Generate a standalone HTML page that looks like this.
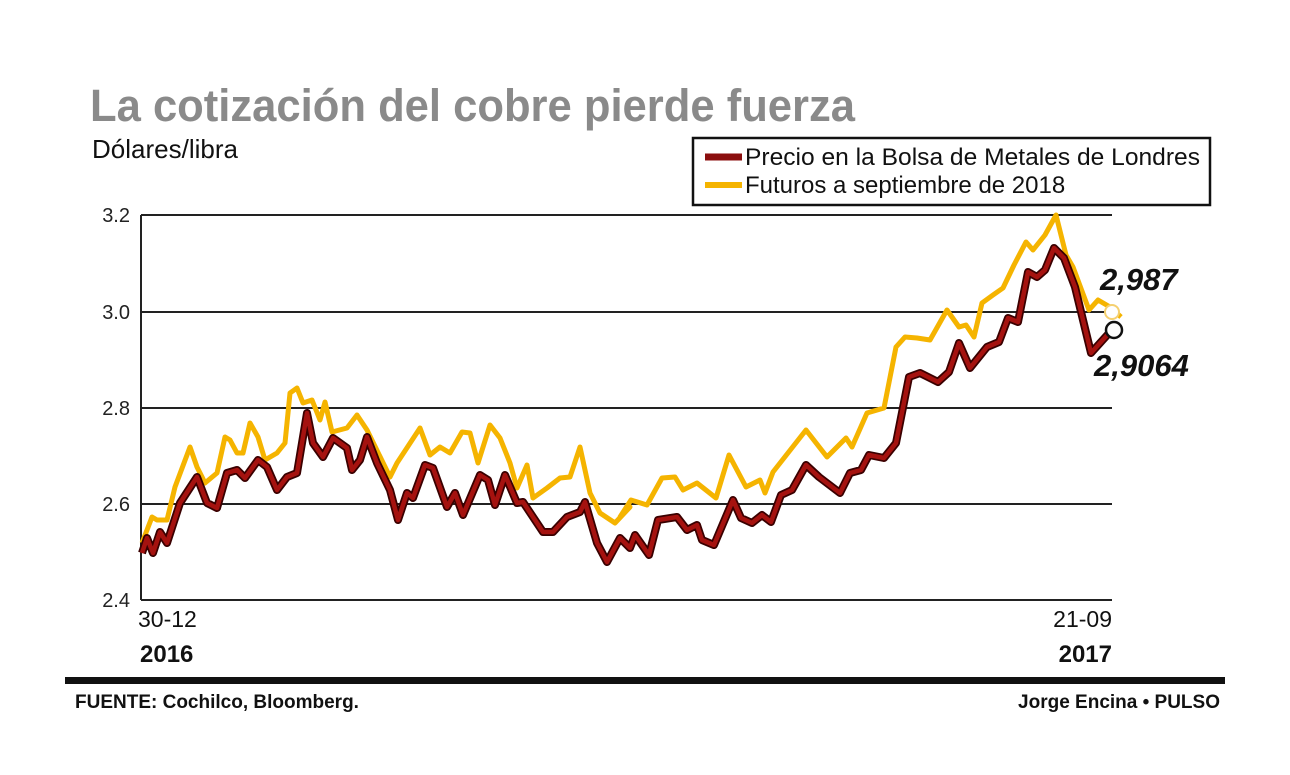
<!DOCTYPE html>
<html><head><meta charset="utf-8"><style>
body{margin:0;background:#fff;width:1290px;height:770px;overflow:hidden}
svg text{font-family:"Liberation Sans",sans-serif}
</style></head><body>
<svg width="1290" height="770" xmlns="http://www.w3.org/2000/svg">
<rect width="1290" height="770" fill="#fff"/>
<text x="90" y="121" font-size="45" font-weight="bold" fill="#8a8a8a" textLength="765" lengthAdjust="spacingAndGlyphs">La cotización del cobre pierde fuerza</text>
<text x="92" y="158" font-size="26" fill="#111">Dólares/libra</text>
<rect x="693" y="138" width="517" height="67" fill="#fff" stroke="#111" stroke-width="2.5"/>
<line x1="705" y1="157" x2="742" y2="157" stroke="#8b0e0e" stroke-width="7"/>
<text x="745" y="165" font-size="24" fill="#111" textLength="455" lengthAdjust="spacingAndGlyphs">Precio en la Bolsa de Metales de Londres</text>
<line x1="705" y1="185" x2="742" y2="185" stroke="#f5b400" stroke-width="6"/>
<text x="745" y="193" font-size="24" fill="#111">Futuros a septiembre de 2018</text>
<g stroke="#222" stroke-width="2">
<line x1="141" y1="215" x2="1112" y2="215"/><line x1="141" y1="312" x2="1112" y2="312"/>
<line x1="141" y1="408" x2="1112" y2="408"/><line x1="141" y1="504" x2="1112" y2="504"/>
<line x1="141" y1="600" x2="1112" y2="600"/><line x1="141" y1="215" x2="141" y2="600"/>
</g>
<g font-size="20" fill="#222" text-anchor="end">
<text x="130" y="222">3.2</text><text x="130" y="319">3.0</text><text x="130" y="415">2.8</text>
<text x="130" y="511">2.6</text><text x="130" y="607">2.4</text></g>
<text x="138" y="627" font-size="23" fill="#111">30-12</text>
<text x="140" y="662" font-size="24" font-weight="bold" fill="#111">2016</text>
<text x="1112" y="627" font-size="23" fill="#111" text-anchor="end">21-09</text>
<text x="1112" y="662" font-size="24" font-weight="bold" fill="#111" text-anchor="end">2017</text>
<polyline fill="none" stroke="#f5b400" stroke-width="5" stroke-linejoin="round" points="142,543 152,517 157,520 167,520 175,487 190,447 197,467 205,483 217,473 225,437 230,440 237,453 243,453 250,423 258,437 265,460 277,453 285,443 290,393 297,388 303,403 312,400 320,420 325,402 332,432 347,428 357,415 367,430 390,477 397,463 420,428 430,455 440,447 450,453 462,432 470,433 478,463 490,425 500,438 510,463 517,488 527,465 533,498 547,488 560,478 570,477 580,447 590,493 600,513 615,523 630,507 620,517 631,500 647,505 662,478 675,477 683,490 697,483 716,498 729,455 746,487 760,480 765,493 773,472 806,430 827,457 846,438 852,447 867,413 884,408 896,347 905,337 917,338 930,340 947,310 959,327 966,325 974,337 982,303 993,295 1003,288 1014,265 1026,242 1033,250 1045,235 1056,215 1066,255 1073,267 1089,310 1098,300 1110,307 1121,317"/>
<circle cx="1112" cy="312" r="7" fill="#fff" stroke="#f5d070" stroke-width="2"/>
<polyline fill="none" stroke="#3a0000" stroke-width="8" stroke-linejoin="round" points="142,553 147,538 153,553 160,532 167,543 180,503 197,477 207,503 217,508 227,473 237,470 245,478 258,460 267,467 277,490 287,477 297,473 307,413 313,443 323,457 333,438 347,448 352,470 360,460 367,437 377,463 390,490 398,520 407,493 413,498 425,465 433,468 447,507 455,493 463,515 480,475 488,480 495,505 505,475 517,503 523,502 543,532 553,532 567,517 580,512 585,502 597,543 607,562 620,538 630,548 635,535 649,555 658,520 677,517 687,530 697,525 702,540 714,545 733,500 741,518 752,523 762,515 771,522 781,495 792,490 806,465 819,477 840,493 850,473 861,470 869,455 884,458 896,443 909,377 920,373 938,382 949,372 959,343 970,368 987,347 999,342 1008,318 1018,322 1028,272 1037,277 1045,270 1054,248 1064,258 1075,287 1091,353 1110,332"/>
<polyline fill="none" stroke="#a5120f" stroke-width="4.5" stroke-linejoin="round" points="142,553 147,538 153,553 160,532 167,543 180,503 197,477 207,503 217,508 227,473 237,470 245,478 258,460 267,467 277,490 287,477 297,473 307,413 313,443 323,457 333,438 347,448 352,470 360,460 367,437 377,463 390,490 398,520 407,493 413,498 425,465 433,468 447,507 455,493 463,515 480,475 488,480 495,505 505,475 517,503 523,502 543,532 553,532 567,517 580,512 585,502 597,543 607,562 620,538 630,548 635,535 649,555 658,520 677,517 687,530 697,525 702,540 714,545 733,500 741,518 752,523 762,515 771,522 781,495 792,490 806,465 819,477 840,493 850,473 861,470 869,455 884,458 896,443 909,377 920,373 938,382 949,372 959,343 970,368 987,347 999,342 1008,318 1018,322 1028,272 1037,277 1045,270 1054,248 1064,258 1075,287 1091,353 1110,332"/>
<circle cx="1114" cy="330" r="8" fill="#fff" stroke="#111" stroke-width="2.5"/>
<text x="1100" y="290" font-size="31" font-weight="bold" font-style="italic" fill="#111">2,987</text>
<text x="1094" y="376" font-size="31" font-weight="bold" font-style="italic" fill="#111">2,9064</text>
<rect x="65" y="677" width="1160" height="7" fill="#111"/>
<text x="75" y="708" font-size="19" font-weight="bold" fill="#111">FUENTE: Cochilco, Bloomberg.</text>
<text x="1220" y="708" font-size="19" font-weight="bold" fill="#111" text-anchor="end">Jorge Encina • PULSO</text>
</svg>
</body></html>
